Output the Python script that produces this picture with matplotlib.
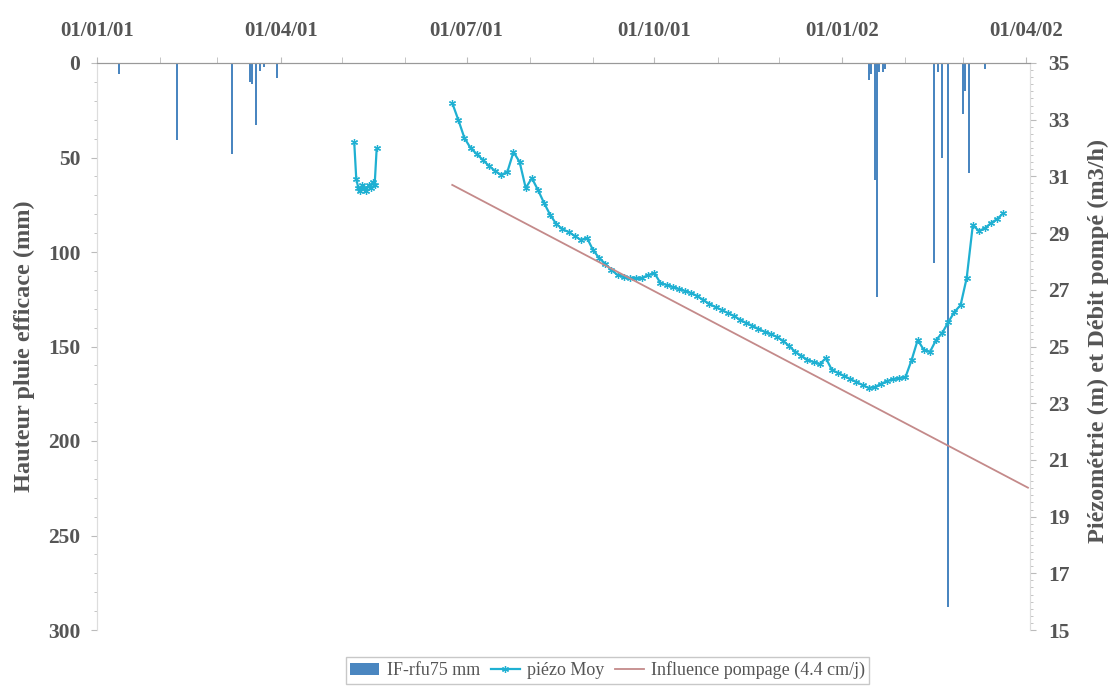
import numpy as np
import pandas as pd
import matplotlib.pyplot as plt
import matplotlib.dates as mdates
from matplotlib.ticker import MultipleLocator

plt.rcParams['font.family'] = ['Liberation Serif', 'DejaVu Serif']

# effective rainfall (mm), one bar per rainy day
rain_dates = pd.to_datetime([
    "2001-01-12", "2001-02-09", "2001-03-08", "2001-03-17", "2001-03-18",
    "2001-03-20", "2001-03-22", "2001-03-24", "2001-03-30",
    "2002-01-14", "2002-01-15", "2002-01-17", "2002-01-18", "2002-01-19",
    "2002-01-21", "2002-01-22", "2002-02-15", "2002-02-17", "2002-02-19",
    "2002-02-22", "2002-03-01", "2002-03-02", "2002-03-04", "2002-03-12",
])
rain_mm = [6, 41, 48, 10, 11, 33, 4, 2, 8,
           9, 6, 62, 124, 5, 5, 3, 106, 5, 50, 288, 27, 15, 58, 3]

# piezometric level (m), short record in May 2001
piezo_may_dates = pd.date_range("2001-05-07", periods=12, freq="D")
piezo_may = [32.2, 30.9, 30.6, 30.5, 30.7, 30.6, 30.5, 30.7, 30.6, 30.8, 30.7, 32.0]

# piezometric level (m), main record every 3 days
piezo_dates = pd.date_range("2001-06-24", periods=91, freq="3D")
piezo = [
    33.59, 32.99, 32.35, 32.00, 31.79, 31.58, 31.37, 31.19, 31.05, 31.16,
    31.86, 31.51, 30.59, 30.94, 30.52, 30.06, 29.64, 29.32, 29.14, 29.04,
    28.90, 28.76, 28.83, 28.40, 28.12, 27.91, 27.70, 27.52, 27.45, 27.42,
    27.42, 27.42, 27.52, 27.59, 27.24, 27.17, 27.10, 27.03, 26.96, 26.89,
    26.78, 26.64, 26.50, 26.39, 26.29, 26.18, 26.08, 25.94, 25.83, 25.73,
    25.62, 25.52, 25.44, 25.34, 25.20, 25.02, 24.81, 24.67, 24.53, 24.45,
    24.38, 24.59, 24.17, 24.07, 23.96, 23.85, 23.75, 23.64, 23.54, 23.57,
    23.68, 23.78, 23.85, 23.89, 23.92, 24.52, 25.23, 24.88, 24.81, 25.23,
    25.48, 25.86, 26.22, 26.46, 27.42, 29.29, 29.07, 29.18, 29.36, 29.50,
    29.71,
]

# pumping influence trend line
trend_dates = pd.to_datetime(["2001-06-24", "2002-04-02"])
trend = [30.70, 20.02]

grey = "#555555"
tick_grey = "#bbbbbb"

fig = plt.figure(figsize=(11.13, 6.93), dpi=100)
ax = fig.add_axes([97 / 1113, 1 - 630 / 693, 933 / 1113, 567 / 693])

ax.bar(rain_dates, rain_mm, width=1.0, color="#4a86c0", align="center",
       label="IF-rfu75 mm", zorder=2)
ax.set_ylim(300, 0)
ax.set_xlim(pd.Timestamp("2001-01-01"), pd.Timestamp("2002-04-03"))

ax2 = ax.twinx()
mk = dict(color="#1fb0d2", lw=1.6, marker=(6, 2, 0), ms=5, mew=0.9)
ax2.plot(piezo_may_dates, piezo_may, **mk)
ax2.plot(piezo_dates, piezo, label="piézo Moy", **mk)
ax2.plot(trend_dates, trend, color="#c48a8a", lw=1.3,
         label="Influence pompage (4.4 cm/j)")
ax2.set_ylim(15, 35)

# date axis on top
ax.xaxis.tick_top()
ax.xaxis.set_major_locator(mdates.MonthLocator(bymonth=[1, 4, 7, 10]))
ax.xaxis.set_minor_locator(mdates.MonthLocator())
ax.xaxis.set_major_formatter(mdates.DateFormatter("%d/%m/%y"))
ax.tick_params(axis="x", which="both", top=True, bottom=False, colors=tick_grey,
               labelcolor=grey, labelsize=15, pad=12, length=4)

ax.yaxis.set_major_locator(MultipleLocator(50))
ax.yaxis.set_minor_locator(MultipleLocator(10))
ax.tick_params(axis="y", which="major", colors=tick_grey, labelcolor=grey,
               labelsize=15.5, length=4, pad=8)
ax.tick_params(axis="y", which="minor", colors=tick_grey, length=2)

ax2.set_yticks(np.arange(15, 36, 2))
ax2.yaxis.set_minor_locator(MultipleLocator(0.25))
ax2.tick_params(axis="y", which="major", colors=tick_grey, labelcolor=grey,
                labelsize=15.5, length=4, pad=9)
ax2.tick_params(axis="y", which="minor", colors=tick_grey, length=2)

for lbl in ax.get_xticklabels() + ax.get_yticklabels() + ax2.get_yticklabels():
    lbl.set_fontweight("bold")

for a in (ax, ax2):
    a.spines["bottom"].set_visible(False)
    a.spines["left"].set_color("#dddddd")
    a.spines["right"].set_color("#dddddd")
    a.spines["top"].set_color("#999999")

label_font = dict(fontsize=17.5, fontweight="bold", color=grey)
ax.set_ylabel("Hauteur pluie efficace (mm)", **label_font)
ax2.set_ylabel("Piézométrie (m) et Débit pompé (m3/h)", **label_font)
ax.yaxis.set_label_coords(-0.066, 0.5)
ax2.yaxis.set_label_coords(1.062, 0.51)

h1, l1 = ax.get_legend_handles_labels()
h2, l2 = ax2.get_legend_handles_labels()
leg = fig.legend(h1 + h2, l1 + l2, loc="lower center", ncol=3,
                 bbox_to_anchor=(0.546, 0.0), fontsize=13, frameon=True,
                 fancybox=False, edgecolor="#bbbbbb", handlelength=1.6,
                 handletextpad=0.4, columnspacing=0.6, borderpad=0.25)
for t in leg.get_texts():
    t.set_color(grey)

fig.savefig("out.png", dpi=100)
